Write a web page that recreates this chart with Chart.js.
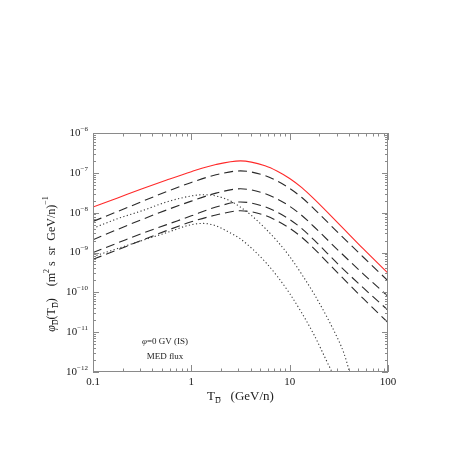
<!DOCTYPE html>
<html>
<head>
<meta charset="utf-8">
<script src="https://cdn.jsdelivr.net/npm/chart.js@4.4.1/dist/chart.umd.min.js"></script>
<style>
  html, body { margin: 0; padding: 0; background: #ffffff; }
  canvas { display: block; }
</style>
</head>
<body>
<canvas id="fluxChart" width="457" height="457"></canvas>
<script>
// Kinetic energy per nucleon (GeV/n) for the smooth curves
const energyT = [0.1, 0.178, 0.316, 0.562, 1, 1.78, 3.16, 5.62, 7.5, 10, 13.3, 17.8, 31.6, 56.2, 100];

// Total flux (red, solid)
const totalFlux = [1.38e-8, 2.34e-8, 3.98e-8, 6.61e-8, 1.07e-7, 1.62e-7, 2.00e-7, 1.51e-7, 1.10e-7, 7.24e-8, 4.27e-8, 2.19e-8, 5.25e-9, 1.23e-9, 3.02e-10];

// Dashed components, top to bottom
const dashedA = [6.03e-9, 1.07e-8, 1.91e-8, 3.39e-8, 5.75e-8, 8.91e-8, 1.12e-7, 8.51e-8, 6.17e-8, 4.07e-8, 2.40e-8, 1.23e-8, 3.02e-9, 7.59e-10, 1.95e-10];
const dashedB = [2.09e-9, 3.80e-9, 6.76e-9, 1.17e-8, 1.95e-8, 3.09e-8, 3.98e-8, 3.02e-8, 2.19e-8, 1.45e-8, 8.51e-9, 4.37e-9, 1.10e-9, 2.88e-10, 7.94e-11];
const dashedC = [1.00e-9, 1.74e-9, 3.02e-9, 5.01e-9, 8.32e-9, 1.38e-8, 1.86e-8, 1.41e-8, 1.02e-8, 6.76e-9, 3.98e-9, 2.04e-9, 4.90e-10, 1.29e-10, 3.55e-11];
const dashedD = [6.76e-10, 1.17e-9, 2.04e-9, 3.55e-9, 5.89e-9, 8.71e-9, 1.12e-8, 8.51e-9, 6.17e-9, 4.07e-9, 2.40e-9, 1.23e-9, 2.88e-10, 6.92e-11, 1.74e-11];

// Dotted components (they fall off steeply, so finer energy grids)
const dottedUpperT = [0.1, 0.178, 0.316, 0.562, 1, 1.33, 1.78, 2.37, 3.16, 4.22, 5.62, 7.5, 10, 13.3, 17.8, 23.7, 31.6, 35.5, 39.8, 44.7];
const dottedUpper = [4.07e-9, 7.08e-9, 1.12e-8, 1.86e-8, 2.63e-8, 2.82e-8, 2.63e-8, 2.09e-8, 1.38e-8, 7.94e-9, 4.07e-9, 1.91e-9, 7.94e-10, 2.82e-10, 8.91e-11, 2.51e-11, 6.03e-12, 3.02e-12, 1.20e-12, 3.98e-13];
const dottedLowerT = [0.1, 0.178, 0.316, 0.562, 1, 1.33, 1.78, 2.37, 3.16, 4.22, 5.62, 7.5, 10, 13.3, 17.8, 23.7, 28.2, 31.6];
const dottedLower = [7.94e-10, 1.26e-9, 2.00e-9, 3.16e-9, 5.01e-9, 5.37e-9, 4.68e-9, 3.31e-9, 2.19e-9, 1.20e-9, 5.89e-10, 2.51e-10, 9.33e-11, 3.02e-11, 8.32e-12, 1.91e-12, 7.59e-13, 3.16e-13];

// Axis ticks
const xMajorTicks = [0.1, 1, 10, 100];
const xTickLabels = ['0.1', '1', '10', '100'];
const yMajorTicks = [1e-12, 1e-11, 1e-10, 1e-9, 1e-8, 1e-7, 1e-6];
const yTickExponents = ['\u221212', '\u221211', '\u221210', '\u22129', '\u22128', '\u22127', '\u22126'];

const SERIF = '"Liberation Serif", "DejaVu Serif", serif';

function toPoints(xs, ys) {
    return xs.map((x, i) => ({ x: x, y: ys[i] }));
}

function lineSet(xs, ys, color, dash) {
    return {
        data: toPoints(xs, ys),
        borderColor: color,
        borderWidth: 1.1,
        borderDash: dash,
        pointRadius: 0,
        fill: false,
        cubicInterpolationMode: 'monotone'
    };
}

// Draws a run of text pieces (with sub/superscripts) centred on x
function drawRich(ctx, parts, x, y) {
    let total = 0;
    parts.forEach(p => {
        ctx.font = (p.italic ? 'italic ' : '') + p.size + 'px ' + SERIF;
        p.w = ctx.measureText(p.t).width;
        total += p.w;
    });
    let cx = x - total / 2;
    parts.forEach(p => {
        ctx.font = (p.italic ? 'italic ' : '') + p.size + 'px ' + SERIF;
        const py = y + (p.dy || 0);
        ctx.fillText(p.t, cx, py);
        if (p.bar) {
            // overbar for the antideuteron symbol
            ctx.fillRect(cx + 0.5, py - p.size * 0.5, p.w - 1, 0.8);
        }
        cx += p.w;
    });
}

const framePlugin = {
    id: 'framePlugin',
    afterDraw(chart) {
        const ctx = chart.ctx;
        const xs = chart.scales.x;
        const ys = chart.scales.y;
        const a = chart.chartArea;
        ctx.save();

        // Frame
        ctx.strokeStyle = '#8a8a8a';
        ctx.lineWidth = 1;
        ctx.strokeRect(a.left + 0.5, a.top + 0.5, a.right - a.left - 1, a.bottom - a.top - 1);

        // Inward ticks on all four sides
        ctx.beginPath();
        xMajorTicks.forEach(dec => {
            for (let m = 1; m <= 9; m++) {
                const v = dec * m;
                if (v > xs.max * 1.0001) break;
                const px = Math.round(xs.getPixelForValue(v)) + 0.5;
                const len = m === 1 ? 7 : 3.5;
                ctx.moveTo(px, a.bottom);
                ctx.lineTo(px, a.bottom - len);
                ctx.moveTo(px, a.top);
                ctx.lineTo(px, a.top + len);
            }
        });
        yMajorTicks.forEach(dec => {
            for (let m = 1; m <= 9; m++) {
                const v = dec * m;
                if (v > ys.max * 1.0001) break;
                const py = Math.round(ys.getPixelForValue(v)) + 0.5;
                const len = m === 1 ? 6 : 3;
                ctx.moveTo(a.left, py);
                ctx.lineTo(a.left + len, py);
                ctx.moveTo(a.right, py);
                ctx.lineTo(a.right - len, py);
            }
        });
        ctx.stroke();

        ctx.fillStyle = '#222222';
        ctx.textBaseline = 'middle';

        // X tick labels
        ctx.font = '11px ' + SERIF;
        ctx.textAlign = 'center';
        xMajorTicks.forEach((v, i) => {
            ctx.fillText(xTickLabels[i], xs.getPixelForValue(v), a.bottom + 10);
        });

        // Y tick labels: 10 with raised exponent
        ctx.textAlign = 'left';
        yMajorTicks.forEach((v, i) => {
            const py = ys.getPixelForValue(v);
            ctx.font = '11px ' + SERIF;
            const wBase = ctx.measureText('10').width;
            ctx.font = '7px ' + SERIF;
            const wExp = ctx.measureText(yTickExponents[i]).width;
            const x0 = a.left - 5 - wBase - wExp;
            ctx.font = '11px ' + SERIF;
            ctx.fillText('10', x0, py);
            ctx.font = '7px ' + SERIF;
            ctx.fillText(yTickExponents[i], x0 + wBase, py - 4);
        });

        // X axis title
        drawRich(ctx, [
            { t: 'T', size: 13 },
            { t: 'D', size: 8, dy: 4, bar: true },
            { t: '   (GeV/n)', size: 13 }
        ], (a.left + a.right) / 2, a.bottom + 25);

        // Y axis title (rotated)
        ctx.save();
        ctx.translate(52, 264);
        ctx.rotate(-Math.PI / 2);
        drawRich(ctx, [
            { t: '\u03c6', size: 12, italic: true },
            { t: 'D', size: 8, dy: 4, bar: true },
            { t: '(T', size: 12 },
            { t: 'D', size: 8, dy: 4, bar: true },
            { t: ')    (m', size: 12 },
            { t: '2', size: 8, dy: -5 },
            { t: ' s  sr  GeV/n)', size: 12 },
            { t: '\u22121', size: 8, dy: -6 }
        ], 0, 0);
        ctx.restore();

        // Annotation inside the plot
        drawRich(ctx, [
            { t: '\u03c6', size: 9, italic: true },
            { t: '=0 GV (IS)', size: 9 }
        ], 165, 342);
        drawRich(ctx, [{ t: 'MED flux', size: 9 }], 165, 357);

        ctx.restore();
    }
};

new Chart(document.getElementById('fluxChart'), {
    type: 'line',
    data: {
        datasets: [
            lineSet(dottedUpperT, dottedUpper, '#3a3a3a', [1.2, 2.4]),
            lineSet(dottedLowerT, dottedLower, '#3a3a3a', [1.2, 2.4]),
            lineSet(energyT, dashedA, '#2a2a2a', [9, 5]),
            lineSet(energyT, dashedB, '#2a2a2a', [9, 5]),
            lineSet(energyT, dashedC, '#2a2a2a', [9, 5]),
            lineSet(energyT, dashedD, '#2a2a2a', [9, 5]),
            lineSet(energyT, totalFlux, '#ff2a2a', [])
        ]
    },
    options: {
        responsive: false,
        animation: false,
        devicePixelRatio: 1,
        layout: { padding: { left: 93, top: 133, right: 69, bottom: 85 } },
        plugins: {
            legend: { display: false },
            tooltip: { enabled: false }
        },
        scales: {
            x: { type: 'logarithmic', min: 0.1, max: 100, display: false },
            y: { type: 'logarithmic', min: 1e-12, max: 1e-6, display: false }
        }
    },
    plugins: [framePlugin]
});
</script>
</body>
</html>
